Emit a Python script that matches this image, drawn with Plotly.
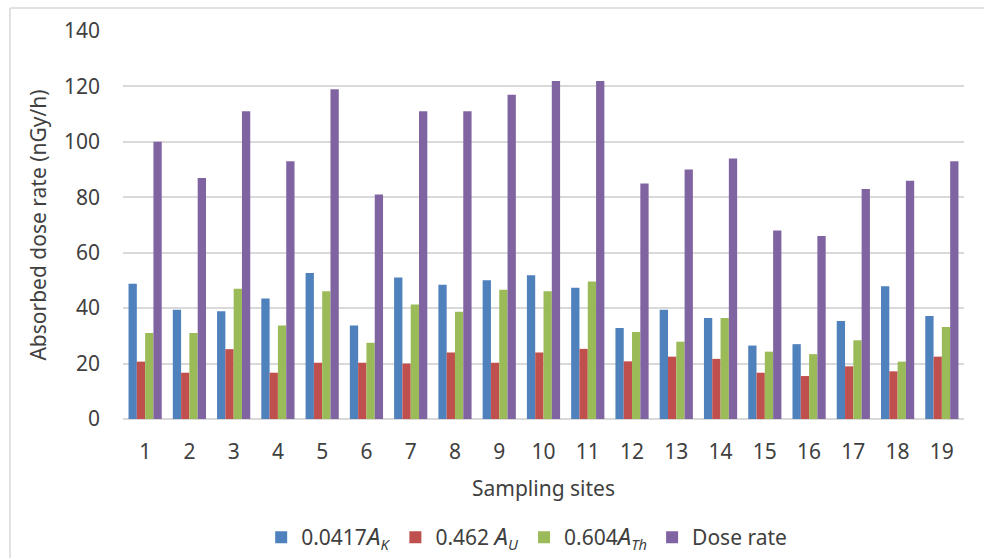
import plotly.graph_objects as go

sites = [str(i) for i in range(1, 20)]
a_k = [48.8, 39.4, 38.9, 43.5, 52.7, 33.7, 51.1, 48.4, 50.1, 51.9, 47.4, 32.8, 39.4, 36.4, 26.5, 27.0, 35.4, 47.9, 37.2]
a_u = [20.7, 16.7, 25.2, 16.7, 20.3, 20.3, 20.0, 24.0, 20.3, 24.0, 25.3, 20.8, 22.5, 21.7, 16.7, 15.5, 19.0, 17.2, 22.5]
a_th = [31.0, 31.0, 47.0, 33.7, 46.1, 27.5, 41.3, 38.7, 46.6, 46.1, 49.6, 31.4, 27.9, 36.4, 24.3, 23.4, 28.4, 20.7, 33.2]
dose = [100, 87, 111, 93, 119, 81, 111, 111, 117, 122, 122, 85, 90, 94, 68, 66, 83, 86, 93]

names = ["0.0417<i><span style='font-size:24px'>A</span><sub>K</sub></i>",
         "0.462 <i><span style='font-size:24px'>A</span><sub>U</sub></i>",
         "0.604<i><span style='font-size:24px'>A</span><sub>Th</sub></i>",
         "Dose rate"]
colors = ["#4F81BD", "#C0504D", "#9BBB59", "#8064A2"]
series = [a_k, a_u, a_th, dose]

fig = go.Figure()
for n, c, s in zip(names, colors, series):
    fig.add_trace(go.Bar(x=sites, y=s, name=n, marker=dict(color=c, line=dict(width=0))))

font = "Noto Sans, Open Sans, DejaVu Sans, sans-serif"
txt = "#404040"
fig.update_layout(
    width=984, height=558,
    margin=dict(l=123, r=20, t=31, b=139, autoexpand=False),
    paper_bgcolor="white", plot_bgcolor="white",
    barmode="group", bargap=0.25, bargroupgap=0,
    font=dict(family=font, color=txt, size=21),
    xaxis=dict(
        title=dict(text="Sampling sites", font=dict(size=21, color=txt), standoff=17),
        tickfont=dict(size=21, color=txt), automargin=False,
        showgrid=False, showline=False, ticks="", ticklabelstandoff=18,
    ),
    yaxis=dict(
        title=dict(text="Absorbed dose rate (nGy/h)", font=dict(size=21, color=txt), standoff=11),
        tickfont=dict(size=21, color=txt), automargin=False,
        range=[0, 140], dtick=20, tick0=0,
        showgrid=True, gridcolor="#D9D9D9", gridwidth=1.5,
        zeroline=True, zerolinecolor="#D9D9D9", zerolinewidth=1.5,
        showline=False, ticks="", ticklabelstandoff=22,
    ),
    legend=dict(
        orientation="h", x=0.48, xanchor="center",
        yref="container", y=1 - 517/558, yanchor="top",
        font=dict(size=21, color=txt), traceorder="normal",
        itemwidth=30,
    ),
    shapes=[
        dict(type="line", xref="paper", yref="paper",
             x0=-113/841, x1=1 + 20/841, y0=1 + 23/388, y1=1 + 23/388,
             line=dict(color="#D9D9D9", width=1.5)),
        dict(type="line", xref="paper", yref="paper",
             x0=-113/841, x1=-113/841, y0=-139/388, y1=1 + 23/388,
             line=dict(color="#D9D9D9", width=1.5)),
    ],
)

fig.write_html("out.html", config={"displayModeBar": False},
               post_script="document.body.style.margin='0px';document.body.style.overflow='hidden';")
